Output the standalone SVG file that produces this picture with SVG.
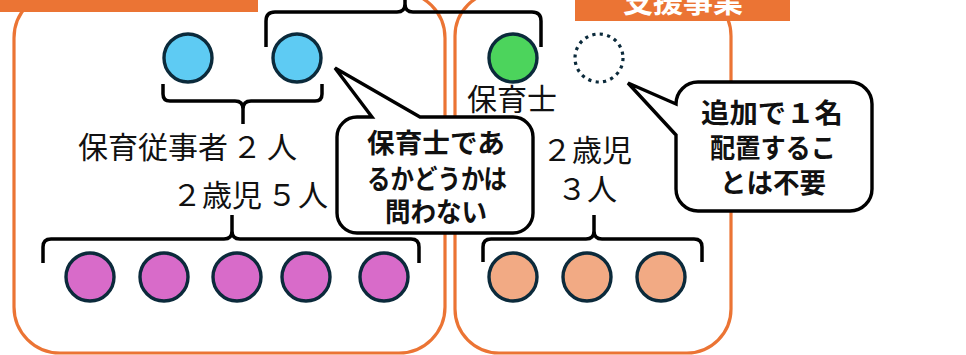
<svg xmlns="http://www.w3.org/2000/svg" width="966" height="355" viewBox="0 0 966 355">
<style>
.box{fill:none;stroke:#eb7434;stroke-width:3.2}
.bar{fill:#eb7434}
.brace{fill:none;stroke:#000;stroke-width:3.5;stroke-linecap:butt;stroke-linejoin:round}
.p{stroke:#0b2a3b;stroke-width:3.4}
.lbl{font-family:"Noto Sans CJK JP","Noto Sans",sans-serif;font-size:30px;fill:#111}
.co{fill:#fff;stroke:#000;stroke-width:3.4;stroke-linejoin:miter}
.cot{font-family:"Noto Sans CJK JP","Noto Sans",sans-serif;font-weight:bold;font-size:27px;fill:#111;text-anchor:middle}
</style>
<rect width="966" height="355" fill="#fff"/>
<g id="frames">
<rect class="box" x="14" y="-8" width="431" height="361" rx="46"/>
<rect class="box" x="455" y="-8" width="276" height="361" rx="44"/>
<rect class="bar" x="0" y="0" width="258" height="12"/>
<rect class="bar" x="575" y="0" width="215" height="21"/>
<text x="683" y="12" font-family="Noto Sans CJK JP, sans-serif" font-weight="bold" font-size="30" fill="#fff" text-anchor="middle">支援事業</text>
</g>
<g id="connectors">
<path class="brace" d="M266,47 V21 Q266,12 275,12 H397 Q405,12 405,4 V-2 M405,4 Q405,12 413,12 H532 Q541,12 541,21 V47"/>
<path class="brace" d="M163,84 V94 Q163,101 170,101 H235 Q243,101 243,109 V124 M243,109 Q243,101 251,101 H315 Q322,101 322,94 V84"/>
<path class="brace" d="M43,263 V247 Q43,239 51,239 H224 Q232,239 232,231 V215 M232,231 Q232,239 240,239 H411 Q419,239 419,247 V263"/>
<path class="brace" d="M483,262 V247 Q483,239 491,239 H586 Q594,239 594,231 V215 M594,231 Q594,239 602,239 H694 Q702,239 702,247 V262"/>
</g>
<g id="staff">
<circle class="p" cx="188" cy="58" r="24" fill="#5ecbf3"/>
<circle class="p" cx="297" cy="58" r="24" fill="#5ecbf3"/>
<circle class="p" cx="513" cy="58" r="24" fill="#4cd45c"/>
<circle cx="599" cy="58" r="24" fill="none" stroke="#0b2a3b" stroke-width="3.2" stroke-dasharray="3.2 4.34"/>
</g>
<g id="children">
<circle class="p" cx="90" cy="277" r="24" fill="#d86bc9"/>
<circle class="p" cx="164" cy="277" r="24" fill="#d86bc9"/>
<circle class="p" cx="237" cy="277" r="24" fill="#d86bc9"/>
<circle class="p" cx="306" cy="277" r="24" fill="#d86bc9"/>
<circle class="p" cx="384" cy="277" r="24" fill="#d86bc9"/>
<circle class="p" cx="513" cy="277" r="24" fill="#f2aa84"/>
<circle class="p" cx="587" cy="277" r="24" fill="#f2aa84"/>
<circle class="p" cx="661" cy="277" r="24" fill="#f2aa84"/>
</g>
<g id="labels">
<text class="lbl" y="158"><tspan x="78">保育従事者</tspan><tspan x="232">２</tspan><tspan x="267">人</tspan></text>
<text class="lbl" y="206"><tspan x="172">２歳児</tspan><tspan x="267">５</tspan><tspan x="298">人</tspan></text>
<text class="lbl" x="467" y="110">保育士</text>
<text class="lbl" x="587" y="161" text-anchor="middle">２歳児</text>
<text class="lbl" x="587" y="200" text-anchor="middle">３人</text>
</g>
<g id="callout1">
<path class="co" d="M357,117 H372 L335,68 L420,117 H513 A20,20 0 0 1 533,137 V213 A20,20 0 0 1 513,233 H357 A20,20 0 0 1 337,213 V137 A20,20 0 0 1 357,117 Z"/>
<text class="cot" x="436" y="153" textLength="138" lengthAdjust="spacingAndGlyphs">保育士であ</text>
<text class="cot" x="437" y="189" textLength="140" lengthAdjust="spacingAndGlyphs">るかどうかは</text>
<text class="cot" x="436" y="222" font-size="26" textLength="102" lengthAdjust="spacingAndGlyphs">問わない</text>
</g>
<g id="callout2">
<path class="co" d="M698,82 H850 A22,22 0 0 1 872,104 V189 A22,22 0 0 1 850,211 H698 A22,22 0 0 1 676,189 V135 L628,83 L676,104 A22,22 0 0 1 698,82 Z"/>
<text class="cot" x="772" y="123" font-size="26" textLength="142" lengthAdjust="spacingAndGlyphs">追加で１名</text>
<text class="cot" x="773" y="158" font-size="26" textLength="126" lengthAdjust="spacingAndGlyphs">配置するこ</text>
<text class="cot" x="773" y="193" font-size="26" textLength="106" lengthAdjust="spacingAndGlyphs">とは不要</text>
</g>
</svg>
